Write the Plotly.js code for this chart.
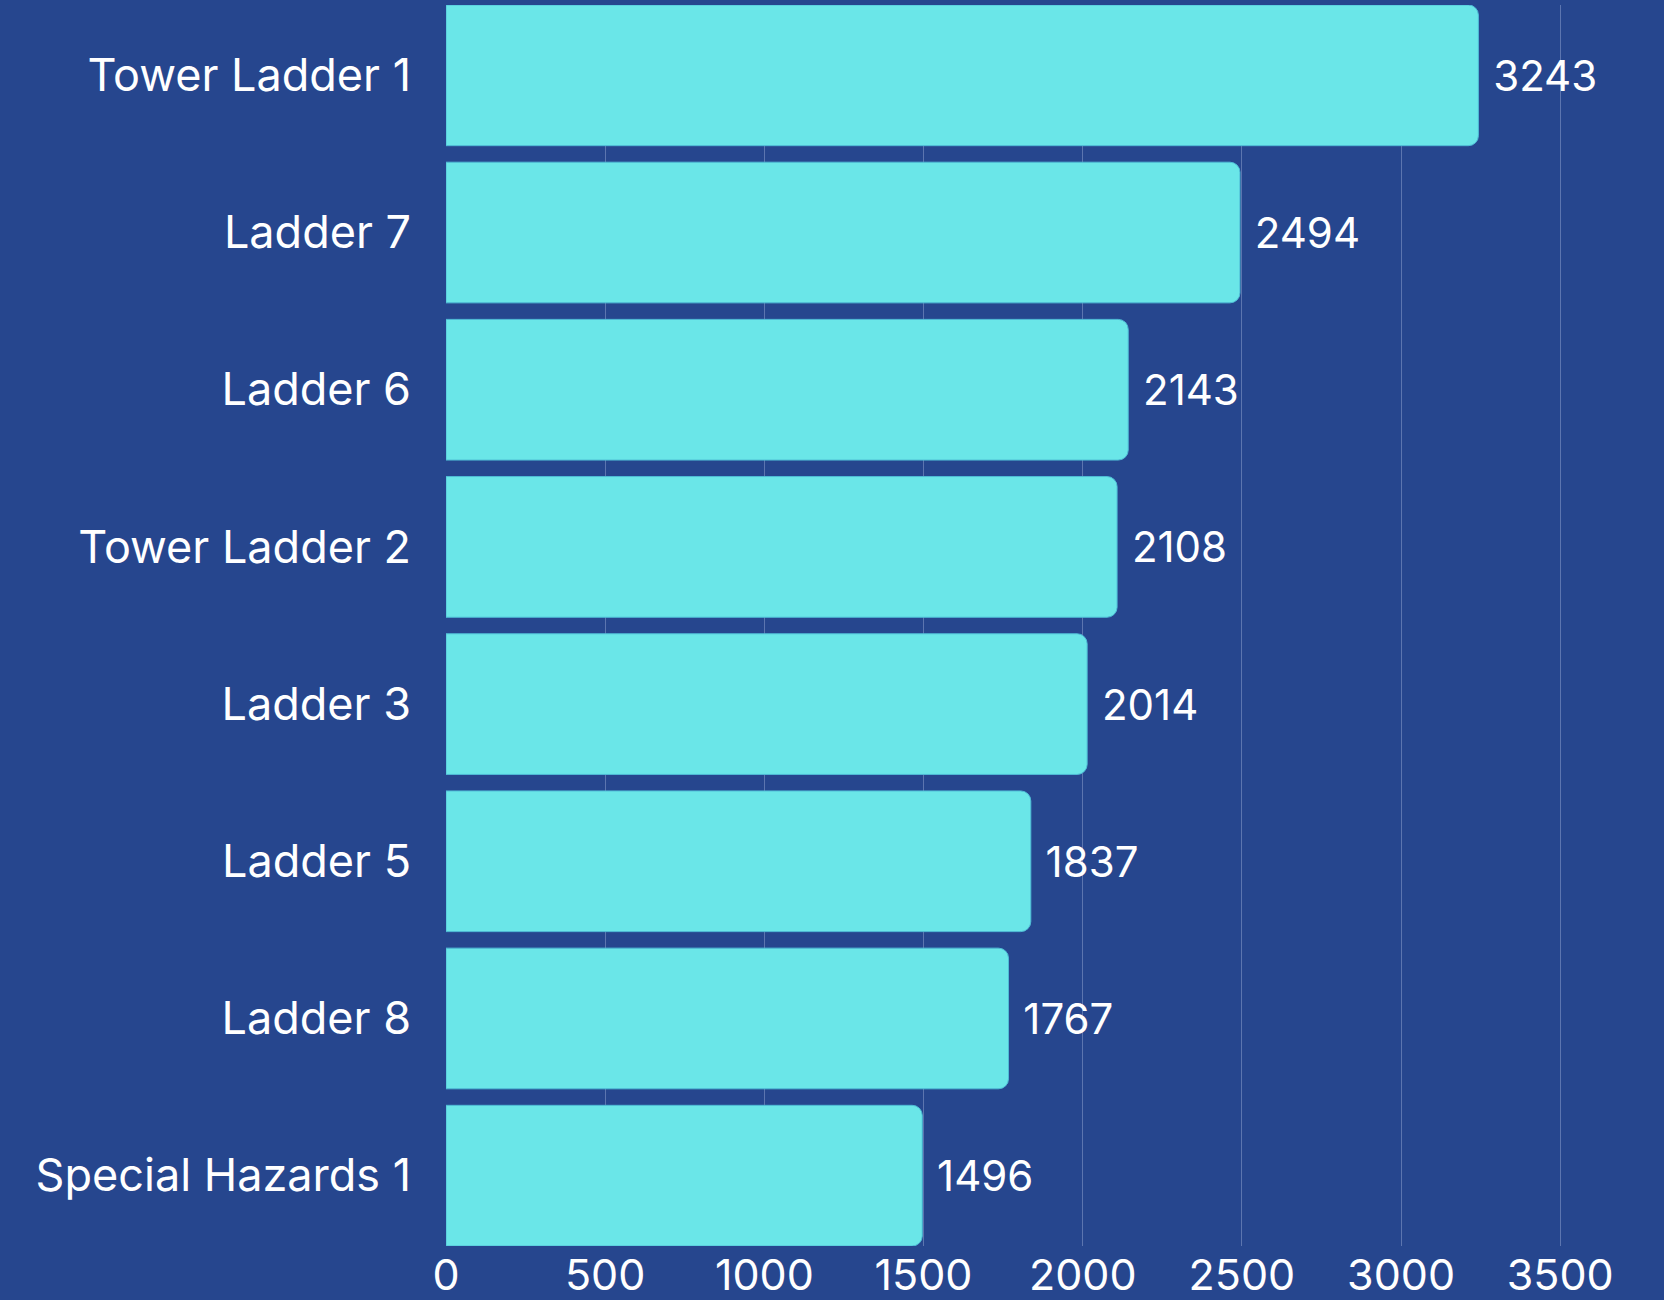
<!DOCTYPE html>
<html><head><meta charset="utf-8">
<script src="https://cdn.plot.ly/plotly-3.0.1.min.js"></script>
<style>html,body{margin:0;padding:0;background:#26468E;}</style>
</head><body>
<div id="chart" style="width:1664px;height:1300px;"></div>
<script>
const units = ["Tower Ladder 1","Ladder 7","Ladder 6","Tower Ladder 2","Ladder 3","Ladder 5","Ladder 8","Special Hazards 1"];
const values = [3243, 2494, 2143, 2108, 2014, 1837, 1767, 1496];
const tickVals = [0,500,1000,1500,2000,2500,3000,3500];

const gap = 0.105;
const trace = {
  type: 'bar', orientation: 'h',
  x: values, y: units,
  marker: {color: '#6AE6E8', line: {color: '#4FBCD6', width: 1}},
  text: values.map(v => String(v)),
  texttemplate: ' %{text}',
  textposition: 'outside',
  cliponaxis: false,
  textfont: {family: 'Inter, sans-serif', size: 42, color: '#FFFFFF'},
  hoverinfo: 'none'
};
const layout = {
  width: 1664, height: 1300,
  margin: {l: 446, r: 0, t: 5, b: 54, pad: 0},
  paper_bgcolor: '#26468E', plot_bgcolor: '#26468E',
  bargap: gap,
  barcornerradius: 10,
  showlegend: false,
  font: {family: 'Inter, sans-serif', color: '#FFFFFF'},
  xaxis: {
    range: [0, 3826],
    tickvals: tickVals, ticktext: tickVals.map(String),
    showgrid: true, gridcolor: 'rgba(160,175,215,0.45)', gridwidth: 1,
    zeroline: false, showline: false,
    tickfont: {family: 'Inter, sans-serif', size: 43, color: '#FFFFFF'},
    ticks: '', ticklabelstandoff: 0
  },
  yaxis: {
    range: [units.length - 0.5 - gap / 2, -0.5 + gap / 2],
    showgrid: false, zeroline: false, showline: false,
    tickfont: {family: 'Inter, sans-serif', size: 45, color: '#FFFFFF'},
    ticks: 'outside', ticklen: 25, tickcolor: 'rgba(0,0,0,0)'
  }
};
Plotly.newPlot('chart', [trace], layout, {displayModeBar: false, staticPlot: true});
</script>
</body></html>
